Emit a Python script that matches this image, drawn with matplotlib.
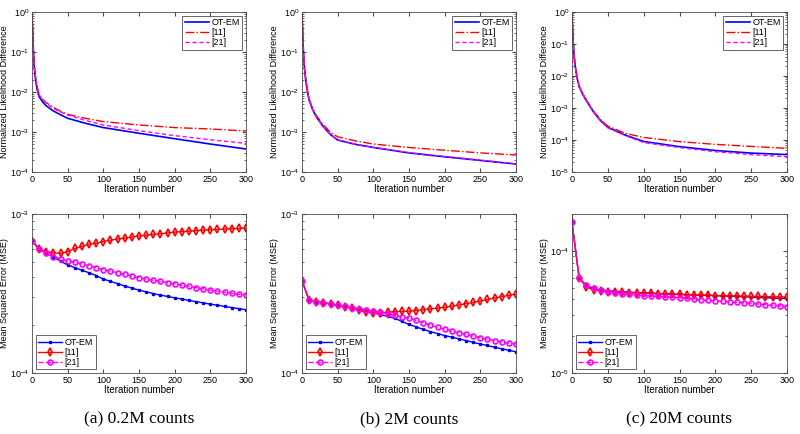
import matplotlib
matplotlib.use('Agg')
import matplotlib.pyplot as plt
from matplotlib.ticker import NullFormatter, LogLocator

plt.rcParams['font.family'] = ['Liberation Sans', 'DejaVu Sans']
plt.rcParams['mathtext.fontset'] = 'custom'
plt.rcParams['mathtext.rm'] = 'Liberation Sans'

# ---- likelihood difference (top row) ----
it_top = [0, 1, 2, 3, 5, 7, 10, 15, 20, 30, 40, 50, 75, 100, 150, 200, 250, 300]

lik_a_ot = [1, .3, .1, .045, .02, .012, 7.6e-3, 5.6e-3, 4.5e-3, 3.35e-3, 2.7e-3, 2.2e-3, 1.65e-3, 1.29e-3, 9.3e-4, 6.8e-4, 5e-4, 3.76e-4]
lik_a_11 = [1, .32, .11, .05, .023, .014, 8.4e-3, 6.5e-3, 5.4e-3, 4.1e-3, 3.3e-3, 2.77e-3, 2.2e-3, 1.82e-3, 1.5e-3, 1.29e-3, 1.19e-3, 1.06e-3]
lik_a_21 = [1, .32, .11, .05, .023, .014, 8.4e-3, 6.4e-3, 5.2e-3, 3.9e-3, 3.15e-3, 2.66e-3, 1.95e-3, 1.5e-3, 1.08e-3, 8.1e-4, 6.4e-4, 5.2e-4]

lik_b_ot = [1, .3, .1, .05, .022, .012, 6.3e-3, 3.6e-3, 2.4e-3, 1.35e-3, 8.6e-4, 6.3e-4, 4.9e-4, 4.1e-4, 3.0e-4, 2.4e-4, 1.95e-4, 1.58e-4]
lik_b_11 = [1, .3, .1, .05, .022, .012, 6.5e-3, 3.8e-3, 2.6e-3, 1.5e-3, 9.8e-4, 7.6e-4, 6e-4, 5e-4, 4.1e-4, 3.5e-4, 3.0e-4, 2.66e-4]
lik_b_21 = [1, .3, .1, .05, .022, .012, 6.3e-3, 3.6e-3, 2.4e-3, 1.36e-3, 8.7e-4, 6.4e-4, 4.95e-4, 4.15e-4, 3.05e-4, 2.45e-4, 1.98e-4, 1.6e-4]

lik_c_ot = [1, .25, .08, .04, .017, .009, 4.7e-3, 2.7e-3, 1.7e-3, 7.5e-4, 4e-4, 2.5e-4, 1.4e-4, 9e-5, 6.2e-5, 4.7e-5, 3.9e-5, 3.5e-5]
lik_c_11 = [1, .25, .08, .04, .017, .009, 4.8e-3, 2.8e-3, 1.8e-3, 8e-4, 4.3e-4, 2.7e-4, 1.6e-4, 1.2e-4, 8.9e-5, 7.3e-5, 6.3e-5, 5.5e-5]
lik_c_21 = [1, .25, .08, .04, .017, .009, 4.7e-3, 2.7e-3, 1.7e-3, 7.5e-4, 3.9e-4, 2.4e-4, 1.35e-4, 8.3e-5, 5.8e-5, 4.3e-5, 3.5e-5, 3.0e-5]

# ---- MSE (bottom row), sampled every 10 iterations ----
it_bot = list(range(0, 301, 10))

mse_a_ot = [6.8e-4, 6.0e-4, 5.7e-4, 5.4e-4, 5.05e-4, 4.78e-4, 4.6e-4, 4.43e-4, 4.27e-4, 4.1e-4, 3.9e-4,
            3.77e-4, 3.65e-4, 3.52e-4, 3.42e-4, 3.32e-4, 3.24e-4, 3.16e-4, 3.09e-4, 3.03e-4, 2.97e-4,
            2.92e-4, 2.86e-4, 2.81e-4, 2.76e-4, 2.71e-4, 2.67e-4, 2.62e-4, 2.58e-4, 2.54e-4, 2.5e-4]
mse_a_11 = [6.8e-4, 6.0e-4, 5.8e-4, 5.7e-4, 5.65e-4, 5.8e-4, 6.07e-4, 6.25e-4, 6.47e-4, 6.55e-4, 6.71e-4,
            6.85e-4, 6.96e-4, 7.05e-4, 7.15e-4, 7.28e-4, 7.35e-4, 7.45e-4, 7.52e-4, 7.6e-4, 7.69e-4,
            7.75e-4, 7.8e-4, 7.86e-4, 7.92e-4, 7.97e-4, 8.0e-4, 8.05e-4, 8.08e-4, 8.12e-4, 8.15e-4]
mse_a_21 = [6.8e-4, 6.0e-4, 5.67e-4, 5.4e-4, 5.23e-4, 5.07e-4, 4.98e-4, 4.85e-4, 4.72e-4, 4.6e-4, 4.47e-4,
            4.37e-4, 4.27e-4, 4.17e-4, 4.08e-4, 3.98e-4, 3.9e-4, 3.83e-4, 3.77e-4, 3.7e-4, 3.64e-4,
            3.57e-4, 3.5e-4, 3.44e-4, 3.38e-4, 3.32e-4, 3.27e-4, 3.22e-4, 3.17e-4, 3.13e-4, 3.1e-4]

mse_b_ot = [3.81e-4, 2.86e-4, 2.81e-4, 2.77e-4, 2.72e-4, 2.67e-4, 2.62e-4, 2.56e-4, 2.5e-4, 2.45e-4, 2.39e-4,
            2.33e-4, 2.27e-4, 2.21e-4, 2.11e-4, 2.02e-4, 1.95e-4, 1.88e-4, 1.82e-4, 1.77e-4, 1.72e-4,
            1.68e-4, 1.64e-4, 1.6e-4, 1.56e-4, 1.52e-4, 1.49e-4, 1.45e-4, 1.42e-4, 1.39e-4, 1.36e-4]
mse_b_11 = [3.81e-4, 2.86e-4, 2.81e-4, 2.77e-4, 2.72e-4, 2.67e-4, 2.61e-4, 2.55e-4, 2.48e-4, 2.42e-4, 2.37e-4,
            2.38e-4, 2.41e-4, 2.43e-4, 2.44e-4, 2.45e-4, 2.47e-4, 2.5e-4, 2.53e-4, 2.56e-4, 2.59e-4,
            2.63e-4, 2.68e-4, 2.73e-4, 2.78e-4, 2.84e-4, 2.9e-4, 2.96e-4, 3.02e-4, 3.08e-4, 3.13e-4]
mse_b_21 = [3.81e-4, 2.86e-4, 2.81e-4, 2.77e-4, 2.72e-4, 2.67e-4, 2.63e-4, 2.58e-4, 2.54e-4, 2.5e-4, 2.45e-4,
            2.41e-4, 2.36e-4, 2.3e-4, 2.25e-4, 2.21e-4, 2.14e-4, 2.07e-4, 2.0e-4, 1.94e-4, 1.89e-4,
            1.84e-4, 1.79e-4, 1.75e-4, 1.71e-4, 1.67e-4, 1.63e-4, 1.6e-4, 1.57e-4, 1.54e-4, 1.52e-4]

mse_c_ot = [1.71e-4, 5.97e-5, 5.2e-5, 4.9e-5, 4.78e-5, 4.7e-5, 4.66e-5, 4.62e-5, 4.58e-5, 4.55e-5, 4.52e-5,
            4.5e-5, 4.47e-5, 4.45e-5, 4.42e-5, 4.39e-5, 4.37e-5, 4.35e-5, 4.33e-5, 4.31e-5, 4.3e-5,
            4.27e-5, 4.25e-5, 4.23e-5, 4.2e-5, 4.18e-5, 4.15e-5, 4.13e-5, 4.1e-5, 4.08e-5, 4.06e-5]
mse_c_11 = [1.71e-4, 5.97e-5, 5.05e-5, 4.8e-5, 4.7e-5, 4.63e-5, 4.6e-5, 4.57e-5, 4.55e-5, 4.52e-5, 4.5e-5,
            4.48e-5, 4.46e-5, 4.44e-5, 4.42e-5, 4.4e-5, 4.38e-5, 4.36e-5, 4.34e-5, 4.32e-5, 4.3e-5,
            4.29e-5, 4.28e-5, 4.27e-5, 4.25e-5, 4.24e-5, 4.23e-5, 4.22e-5, 4.2e-5, 4.19e-5, 4.18e-5]
mse_c_21 = [1.71e-4, 5.97e-5, 5.25e-5, 4.95e-5, 4.75e-5, 4.57e-5, 4.5e-5, 4.45e-5, 4.4e-5, 4.35e-5, 4.3e-5,
            4.27e-5, 4.23e-5, 4.2e-5, 4.17e-5, 4.13e-5, 4.08e-5, 4.03e-5, 3.98e-5, 3.93e-5, 3.89e-5,
            3.85e-5, 3.82e-5, 3.79e-5, 3.75e-5, 3.72e-5, 3.67e-5, 3.62e-5, 3.58e-5, 3.54e-5, 3.5e-5]

names = ['OT-EM', '[11]', '[21]']
captions = ['(a) 0.2M counts', '(b) 2M counts', '(c) 20M counts']
top_ylims = [(1e-4, 1), (1e-4, 1), (1e-5, 1)]
bot_ylims = [(1e-4, 1e-3), (1e-4, 1e-3), (1e-5, 2e-4)]

lik = [(lik_a_ot, lik_a_11, lik_a_21), (lik_b_ot, lik_b_11, lik_b_21), (lik_c_ot, lik_c_11, lik_c_21)]
mse = [(mse_a_ot, mse_a_11, mse_a_21), (mse_b_ot, mse_b_11, mse_b_21), (mse_c_ot, mse_c_11, mse_c_21)]

W, H = 800, 434
fig = plt.figure(figsize=(8, 4.34), dpi=100)

lefts = [32, 302, 572]
widths = [214, 214, 215]

AX_COL = '#4d4d4d'


def style_axes(ax):
	ax.set_xlim(0, 300)
	ax.set_xticks([0, 50, 100, 150, 200, 250, 300])
	ax.yaxis.set_major_locator(LogLocator(base=10, numticks=10))
	ax.yaxis.set_minor_locator(LogLocator(base=10, subs=range(2, 10), numticks=10))
	ax.yaxis.set_minor_formatter(NullFormatter())
	ax.tick_params(which='both', direction='in', top=True, right=True, labelsize=6.5,
				   color=AX_COL, pad=2)
	ax.tick_params(which='major', length=3)
	ax.tick_params(which='minor', length=1.6)
	for s in ax.spines.values():
		s.set_color(AX_COL)
		s.set_linewidth(0.6)
	ax.set_xlabel('Iteration number', fontsize=7, labelpad=0)


def add_legend(ax, loc):
	leg = ax.legend(loc=loc, fontsize=6.5, handlelength=2.6, borderpad=0.3,
					labelspacing=0.1, handletextpad=0.3, fancybox=False, framealpha=1,
					borderaxespad=0.4)
	leg.get_frame().set_edgecolor(AX_COL)
	leg.get_frame().set_linewidth(0.6)


for i in range(3):
	# top row: likelihood difference
	ax = fig.add_axes([lefts[i] / W, (H - 172) / H, widths[i] / W, 160 / H])
	ot, r11, r21 = lik[i]
	ax.semilogy(it_top, ot, '-', color='#0000ff', lw=1.2, label=names[0])
	ax.semilogy(it_top, r11, '-.', color='#ff0000', lw=1.0, label=names[1])
	ax.semilogy(it_top, r21, '--', color='#ff00ff', lw=1.0, dashes=(3, 2), label=names[2])
	ax.set_ylim(*top_ylims[i])
	style_axes(ax)
	ax.set_ylabel('Normalized Likelihood Difference', fontsize=6.5, labelpad=1)
	add_legend(ax, 'upper right')

	# bottom row: MSE
	ax = fig.add_axes([lefts[i] / W, (H - 373) / H, widths[i] / W, 159 / H])
	ot, r11, r21 = mse[i]
	ax.semilogy(it_bot, ot, '-', color='#0000ff', lw=1.0, marker='s', ms=1.8,
				mfc='#0000ff', label=names[0])
	ax.semilogy(it_bot, r11, '-', color='#ff0000', lw=1.0, marker='d', ms=4,
				mfc='none', mew=1.2, label=names[1])
	ax.semilogy(it_bot, r21, '--', color='#ff00ff', lw=1.0, marker='o', ms=3.5,
				mfc='none', mew=1.2, label=names[2])
	ax.set_ylim(*bot_ylims[i])
	style_axes(ax)
	ax.set_ylabel('Mean Squared Error (MSE)', fontsize=6.5, labelpad=1)
	add_legend(ax, 'lower left')

	fig.text((lefts[i] + widths[i] / 2) / W, 1 - 419 / H, captions[i], ha='center', va='center',
			 fontsize=12.5, family=['Liberation Serif', 'DejaVu Serif'])

fig.savefig('out.png', dpi=100)
